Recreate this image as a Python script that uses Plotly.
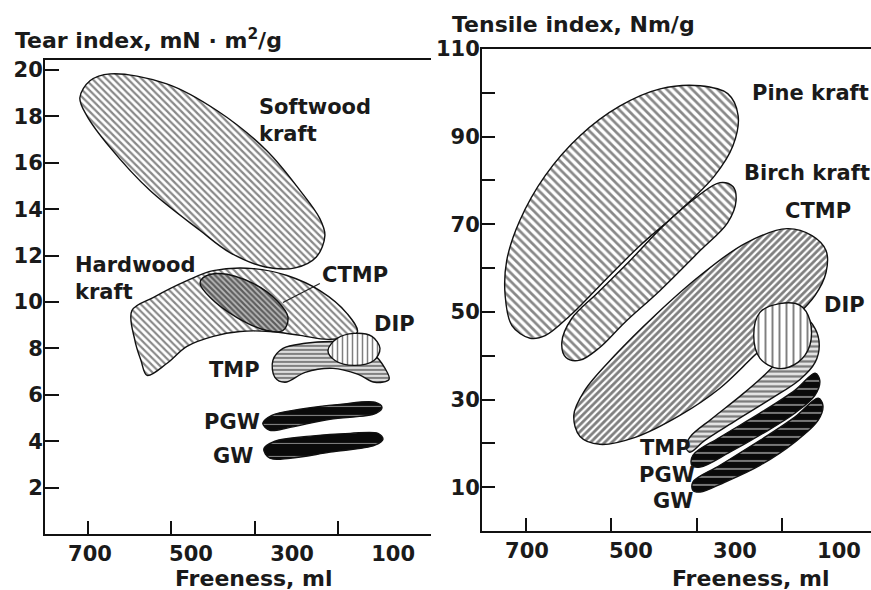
import plotly.graph_objects as go

FONT = "DejaVu Sans"
W, H = 871, 590


def py(p):
    # paper y fraction for a pixel row (calibrated to the rendered page)
    return 1 - (p - 11) / 579


# ---------------- Left panel: Tear index vs Freeness ----------------
left_xticks = [700, 500, 300, 100]
left_yticks = [2, 4, 6, 8, 10, 12, 14, 16, 18, 20]

softwood_f = [482, 581, 660, 706, 720, 700, 660, 548, 448, 350, 284, 245, 235, 252, 294, 353, 423]
softwood_t = [13.08, 14.8, 16.65, 18.02, 18.8, 19.53, 19.83, 19.4, 18.24, 16.52, 14.8, 13.59, 12.87, 11.94, 11.47, 11.51, 12.13]

hardwood_f = [377, 310, 245, 191, 171, 225, 284, 344, 403, 456, 508, 548, 587, 599, 611, 617, 575, 508, 456]
hardwood_t = [11.44, 11.14, 10.49, 9.5, 8.69, 8.39, 8.56, 8.73, 8.73, 8.52, 8.09, 7.35, 6.84, 7.48, 8.34, 9.63, 10.19, 10.92, 11.35]

ctmp_l_f = [443, 377, 330, 308, 318, 350, 409, 462, 482, 476]
ctmp_l_t = [11.23, 10.8, 10.06, 9.33, 8.77, 8.77, 9.33, 10.19, 10.8, 11.05]

tmp_l_f = [274, 225, 175, 142, 116, 108, 136, 169, 219, 274, 314, 334, 338, 318]
tmp_l_t = [8.22, 8.3, 8.22, 7.83, 7.14, 6.67, 6.54, 6.88, 7.14, 6.97, 6.54, 6.75, 7.48, 8.0]

dip_l_f = [177, 142, 126, 138, 177, 215, 229, 211]
dip_l_t = [8.65, 8.52, 8.0, 7.48, 7.27, 7.48, 7.91, 8.43]

pgw_l_f = [284, 205, 136, 122, 134, 225, 304, 344, 358, 340]
pgw_l_t = [5.38, 5.59, 5.68, 5.46, 5.2, 4.95, 4.6, 4.47, 4.77, 5.12]

gw_l_f = [264, 185, 130, 120, 136, 225, 304, 344, 356, 334]
gw_l_t = [4.22, 4.34, 4.34, 4.09, 3.83, 3.53, 3.27, 3.27, 3.66, 4.0]

ctmp_leader_f = [245, 318]
ctmp_leader_t = [10.8, 9.98]

left_labels = [
    ("Softwood<br>kraft", 369, 17.8, "left"),
    ("Hardwood<br>kraft", 734, 11.0, "left"),
    ("CTMP", 175, 11.16, "center"),
    ("DIP", 98, 9.07, "center"),
    ("TMP", 359, 7.05, "right"),
    ("PGW", 359, 4.82, "right"),
    ("GW", 373, 3.38, "right"),
]

# ---------------- Right panel: Tensile index vs Freeness ----------------
right_xticks = [700, 500, 300, 100]
right_yticks = [10, 20, 30, 40, 50, 60, 70, 80, 90, 100, 110]
right_ytext = ["10", "", "30", "", "50", "", "70", "", "90", "", "110"]

pine_f = [406, 483, 560, 617, 665, 694, 729, 742, 739, 714, 665, 598, 521, 444, 367, 314, 294, 304, 339]
pine_t = [73.1, 65.1, 56.0, 49.2, 44.6, 44.0, 46.9, 53.8, 61.7, 70.8, 81.1, 90.2, 97.0, 100.9, 101.6, 99.8, 94.8, 87.9, 81.1]

birch_f = [444, 512, 560, 598, 625, 633, 614, 564, 502, 439, 373, 329, 304, 298, 314, 367]
birch_t = [54.9, 47.6, 41.9, 39.0, 39.6, 43.1, 48.5, 54.4, 61.7, 69.5, 76.3, 79.5, 78.6, 75.4, 70.4, 64.0]

ctmp_r_f = [262, 329, 406, 492, 560, 598, 610, 589, 531, 454, 367, 281, 200, 152, 125, 125, 146, 194]
ctmp_r_t = [40.1, 32.6, 26.4, 21.4, 19.8, 21.6, 26.4, 32.1, 40.1, 49.2, 58.3, 65.6, 69.0, 67.4, 64.0, 59.0, 53.8, 47.6]

tmp_r_f = [232, 300, 358, 387, 394, 387, 344, 290, 248, 217, 194, 165, 146, 138, 146, 175]
tmp_r_t = [30.1, 25.1, 20.7, 18.0, 19.1, 21.4, 25.7, 30.8, 35.1, 39.0, 44.6, 48.5, 46.2, 42.4, 38.5, 34.6]

pgw_r_f = [252, 185, 146, 137, 146, 185, 242, 310, 367, 383, 381, 329]
pgw_r_t = [26.9, 32.1, 36.0, 34.4, 31.0, 26.9, 22.6, 18.0, 14.6, 15.0, 17.3, 21.4]

gw_r_f = [252, 185, 140, 131, 140, 185, 252, 319, 367, 381, 381, 329]
gw_r_t = [20.7, 26.0, 30.3, 28.7, 25.3, 20.3, 15.0, 11.2, 8.9, 9.3, 11.2, 15.0]

dip_r_f = [214, 175, 156, 156, 179, 217, 252, 264, 252]
dip_r_t = [51.9, 51.5, 48.1, 42.4, 38.5, 37.1, 39.4, 44.6, 49.9]

right_labels = [
    ("Pine kraft", 271, 100.0, "left"),
    ("Birch kraft", 287, 81.8, "left"),
    ("CTMP", 140, 73.1, "center"),
    ("DIP", 90, 51.5, "center"),
    ("TMP", 381, 18.9, "right"),
    ("PGW", 373, 12.75, "right"),
    ("GW", 377, 6.8, "right"),
]

fig = go.Figure()


def add_blob(xs, ys, xa, ya, shape, size, solidity, fg, bg, lw=1.4):
    fig.add_trace(go.Scatter(
        x=list(xs) + [xs[0]], y=list(ys) + [ys[0]],
        xaxis=xa, yaxis=ya, mode="lines",
        line=dict(color="#111111", width=lw, shape="spline", smoothing=1.0),
        fill="toself", fillcolor=bg,
        fillpattern=dict(shape=shape, size=size, solidity=solidity,
                         fgcolor=fg, bgcolor=bg),
        hoverinfo="skip", showlegend=False,
    ))


# left blobs
add_blob(softwood_f, softwood_t, "x", "y", "\\", 5, 0.45, "#111111", "white")
add_blob(hardwood_f, hardwood_t, "x", "y", "\\", 5, 0.42, "#111111", "white")
add_blob(ctmp_l_f, ctmp_l_t, "x", "y", "\\", 4, 0.55, "#000000", "#bbbbbb")
add_blob(tmp_l_f, tmp_l_t, "x", "y", "-", 4, 0.45, "#111111", "#dddddd")
add_blob(dip_l_f, dip_l_t, "x", "y", "|", 5, 0.3, "#000000", "white")
add_blob(pgw_l_f, pgw_l_t, "x", "y", "-", 9, 0.12, "white", "#0a0a0a")
add_blob(gw_l_f, gw_l_t, "x", "y", "-", 13, 0.08, "white", "#0a0a0a")
fig.add_trace(go.Scatter(x=ctmp_leader_f, y=ctmp_leader_t, xaxis="x", yaxis="y",
                         mode="lines", line=dict(color="#222222", width=1.2),
                         hoverinfo="skip", showlegend=False))

# right blobs
add_blob(pine_f, pine_t, "x2", "y2", "\\", 6, 0.45, "#111111", "white")
add_blob(birch_f, birch_t, "x2", "y2", "\\", 6, 0.45, "#111111", "white")
add_blob(ctmp_r_f, ctmp_r_t, "x2", "y2", "/", 5, 0.55, "#000000", "white")
add_blob(tmp_r_f, tmp_r_t, "x2", "y2", "-", 5, 0.45, "#111111", "#e4e4e4")
add_blob(pgw_r_f, pgw_r_t, "x2", "y2", "-", 8, 0.22, "white", "#0a0a0a")
add_blob(gw_r_f, gw_r_t, "x2", "y2", "-", 8, 0.22, "white", "#0a0a0a")
add_blob(dip_r_f, dip_r_t, "x2", "y2", "|", 7, 0.28, "#000000", "white")

annotations = []
for text, fx, ty, anchor in left_labels:
    annotations.append(dict(text=text, x=fx, y=ty, xref="x", yref="y",
                            xanchor=anchor, yanchor="middle", align="left",
                            showarrow=False,
                            font=dict(family=FONT, size=21, color="#1a1a1a", weight="bold")))
for text, fx, ty, anchor in right_labels:
    annotations.append(dict(text=text, x=fx, y=ty, xref="x2", yref="y2",
                            xanchor=anchor, yanchor="middle", align="left",
                            showarrow=False,
                            font=dict(family=FONT, size=21, color="#1a1a1a", weight="bold")))

title_font = dict(family=FONT, size=22, color="#1a1a1a", weight="bold")
annotations += [
    dict(text="Tear index, mN \u00b7 m<sup>2</sup>/g", x=13 / W, y=py(38),
         xref="paper", yref="paper", xanchor="left", yanchor="middle",
         showarrow=False, font=title_font),
    dict(text="Tensile index, Nm/g", x=450 / W, y=py(24),
         xref="paper", yref="paper", xanchor="left", yanchor="middle",
         showarrow=False, font=title_font),
    dict(text="Freeness, ml", x=254 / W, y=py(578),
         xref="paper", yref="paper", xanchor="center", yanchor="middle",
         showarrow=False, font=title_font),
    dict(text="Freeness, ml", x=751 / W, y=py(578),
         xref="paper", yref="paper", xanchor="center", yanchor="middle",
         showarrow=False, font=title_font),
]

tick_font = dict(family=FONT, size=21, color="#1a1a1a", weight="bold")
common_line = dict(showline=True, linecolor="#111111", linewidth=2,
                   showgrid=False, zeroline=False)

fig.update_layout(
    width=W, height=H,
    margin=dict(l=0, r=0, t=0, b=0),
    paper_bgcolor="white", plot_bgcolor="white",
    annotations=annotations,
    xaxis=dict(domain=[45 / W, 431 / W], range=[789, 25], anchor="y",
               tickvals=left_xticks, ticks="", tickfont=tick_font,
               mirror=True, **common_line),
    xaxis3=dict(overlaying="x", range=[803, -123], anchor="y", side="bottom",
                tickvals=left_xticks, ticks="inside", ticklen=13, tickwidth=2,
                tickcolor="#111111", showticklabels=False,
                showline=False, showgrid=False, zeroline=False),
    yaxis=dict(domain=[py(534), py(59)], range=[0, 20.43], anchor="x",
               tickvals=left_yticks, ticks="inside", ticklen=14, tickwidth=2,
               tickcolor="#111111", tickfont=tick_font, mirror=False,
               ticklabelstandoff=-4, **common_line),
    xaxis2=dict(domain=[482 / W, 1.0], range=[786.5, 38.5], anchor="y2",
                tickvals=right_xticks, ticks="", tickfont=tick_font,
                mirror=True, **common_line),
    xaxis4=dict(overlaying="x2", range=[803, -108.5], anchor="y2", side="bottom",
                tickvals=right_xticks, ticks="inside", ticklen=13, tickwidth=2,
                tickcolor="#111111", showticklabels=False,
                showline=False, showgrid=False, zeroline=False),
    yaxis2=dict(domain=[py(531), py(48)], range=[0, 110], anchor="x2",
                tickvals=right_yticks, ticktext=right_ytext, ticks="inside",
                ticklen=13, tickwidth=2, tickcolor="#111111", tickfont=tick_font,
                mirror=False, ticklabelstandoff=-4, **common_line),
)

# invisible traces so the overlay tick axes are rendered
fig.add_trace(go.Scatter(x=[700], y=[None], xaxis="x3", yaxis="y", mode="markers",
                         hoverinfo="skip", showlegend=False))
fig.add_trace(go.Scatter(x=[700], y=[None], xaxis="x4", yaxis="y2", mode="markers",
                         hoverinfo="skip", showlegend=False))

fig.write_html("out.html")
